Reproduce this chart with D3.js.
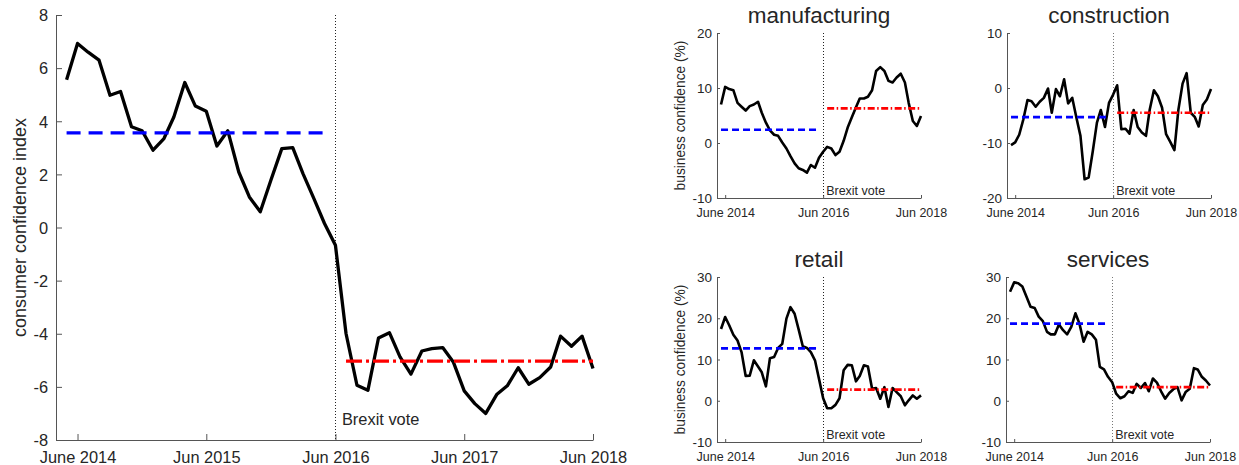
<!DOCTYPE html>
<meta charset="utf-8">
<script src="https://cdn.jsdelivr.net/npm/d3@7"></script>
<style>
  body { margin: 0; background: #fff; }
  svg text { font-family: Helvetica, 'Liberation Sans', Arial, sans-serif; fill: #262626; }
</style>
<body>
<script>

// monthly observations, May 2014 .. Jun 2018
var months = d3.utcMonth.range(new Date(Date.UTC(2014, 4, 1)), new Date(Date.UTC(2018, 6, 1)))
var brexit = new Date(Date.UTC(2016, 5, 1))
var xDomain = [new Date(Date.UTC(2014, 3, 1)), new Date(Date.UTC(2018, 5, 1))]

var mainTicks = [2014, 2015, 2016, 2017, 2018].map(function(y) { return new Date(Date.UTC(y, 5, 1)) })
var mainTickLabels = ["June 2014", "Jun 2015", "Jun 2016", "Jun 2017", "Jun 2018"]
var panelTicks = [2014, 2016, 2018].map(function(y) { return new Date(Date.UTC(y, 5, 1)) })
var panelTickLabels = ["June 2014", "Jun 2016", "Jun 2018"]

var consumer = [5.56, 6.93, 6.6, 6.3, 4.98, 5.12, 3.79, 3.64, 2.91, 3.35, 4.16, 5.46, 4.57, 4.38, 3.07, 3.64,
  2.09, 1.15, 0.59, 1.78, 2.97, 3.01, 2.03, 1.09, 0.15, -0.67,
  -3.99, -5.94, -6.13, -4.16, -3.96, -4.87, -5.52, -4.65, -4.56, -4.52, -5.06, -6.15, -6.63, -7.0,
  -6.29, -5.96, -5.28, -5.9, -5.65, -5.25, -4.09, -4.47, -4.09, -5.31]
var consumerMeans = [3.56, -5.03]

var manufacturing = [7.0, 10.2, 9.8, 9.6, 7.3, 6.6, 5.9, 6.7, 7.0, 7.5, 5.5, 3.7, 2.3, 1.5, 1.3, 0.1,
  -1.0, -2.4, -3.7, -4.6, -4.9, -5.4, -4.0, -4.5, -2.7, -1.6, -0.7, -1.0, -2.2, -1.6, 0.4, 2.8,
  4.7, 6.5, 8.1, 8.1, 8.4, 9.6, 13.1, 13.8, 13.1, 11.3, 11.0, 11.9, 12.6, 11.0, 7.3, 4.0, 3.1, 4.9]
var manufacturingMeans = [2.4, 6.3]

var construction = [-10.4, -9.9, -8.5, -5.7, -2.2, -2.4, -3.4, -2.5, -1.8, -0.1, -4.5, -0.2, -1.5, 1.6,
  -2.8, -1.8, -5.4, -8.7, -16.6, -16.3, -11.5, -6.3, -4.0, -7.1, -2.7, -1.2, 0.5, -7.5, -7.4, -8.3,
  -4.0, -7.1, -8.1, -8.7, -3.9, -0.4, -1.5, -3.6, -8.4, -9.8, -11.3, -3.9, 0.8, 2.7, -4.5, -5.3,
  -7.0, -3.1, -2.1, -0.2]
var constructionMeans = [-5.3, -4.5]

var retail = [17.4, 20.3, 18.3, 16.0, 14.6, 11.8, 6.0, 6.1, 9.8, 8.3, 6.9, 3.5, 10.3, 10.6, 12.8, 13.8,
  19.9, 22.7, 21.1, 17.3, 13.2, 12.8, 11.8, 9.8, 5.3, 0.6, -1.8, -1.8, -1.0, 0.6, 7.4, 8.7, 8.6,
  4.7, 6.0, 8.6, 8.3, 2.9, 3.1, 0.5, 3.3, -1.5, 3.1, 2.1, 1.1, -1.1, 0.1, 1.3, 0.5, 1.3]
var retailMeans = [12.7, 2.7]

var services = [26.4, 28.7, 28.5, 27.7, 25.2, 22.8, 22.5, 20.4, 19.3, 16.7, 16.1, 16.1, 18.5, 17.1,
  16.1, 17.9, 21.2, 18.7, 14.3, 16.7, 16.1, 14.8, 8.2, 7.6, 5.8, 4.5, 1.7, 0.6, 1.1, 2.3, 1.9, 4.1,
  3.1, 4.3, 2.3, 5.4, 4.4, 2.3, 0.5, 1.9, 2.8, 3.3, 0.1, 2.1, 2.9, 7.9, 7.6, 5.8, 4.9, 3.7]
var servicesMeans = [18.7, 3.3]

var svg = d3.select("body").append("svg")
  .attr("width", 1239)
  .attr("height", 465)

function drawChart(o) {
  var x = d3.scaleUtc().domain(xDomain).range([o.left, o.right])
  var y = d3.scaleLinear().domain(o.yDomain).range([o.bottom, o.top])
  var g = svg.append("g")

  var xAxis = g.append("g")
    .attr("transform", "translate(0," + o.bottom + ")")
    .call(d3.axisBottom(x).tickValues(o.ticks).tickSizeInner(-o.tick).tickSizeOuter(0)
      .tickPadding(o.xPad).tickFormat(function(d, i) { return o.tickLabels[i] }))
  var yAxis = g.append("g")
    .attr("transform", "translate(" + o.left + ",0)")
    .call(d3.axisLeft(y).tickValues(o.yTicks).tickSizeInner(-o.tick).tickSizeOuter(0)
      .tickPadding(o.yPad).tickFormat(function(d) { return String(d) }))
  g.selectAll(".domain, .tick line").attr("stroke", "#555")
  g.selectAll(".tick text").style("font-size", o.font + "px").attr("fill", "#262626")
  yAxis.selectAll(".tick text").attr("dy", "0.35em").style("font-size", o.yfont + "px")

  // brexit marker
  g.append("line")
    .attr("x1", Math.round(x(brexit)) + 0.5).attr("x2", Math.round(x(brexit)) + 0.5)
    .attr("y1", o.top).attr("y2", o.bottom)
    .attr("stroke", o.vcolor).attr("stroke-width", 1).attr("stroke-dasharray", "1,2")
  g.append("text")
    .attr("x", x(brexit) + o.brexitDx).attr("y", o.bottom - o.brexitDy)
    .style("font-size", o.font + "px")
    .text("Brexit vote")

  var line = d3.line().x(function(d) { return x(d[0]) }).y(function(d) { return y(d[1]) })

  g.append("path")
    .attr("d", line(months.map(function(m, i) { return [m, o.values[i]] })))
    .attr("fill", "none").attr("stroke", "#000").attr("stroke-width", o.lw)
    .attr("stroke-linejoin", "round")

  g.append("path")
    .attr("d", line([[months[0], o.means[0]], [months[24], o.means[0]]]))
    .attr("stroke", "#0000ff").attr("stroke-width", o.mw).attr("stroke-dasharray", o.dash)
  g.append("path")
    .attr("d", line([[months[26], o.means[1]], [months[49], o.means[1]]]))
    .attr("stroke", "#ff0000").attr("stroke-width", o.mw).attr("stroke-dasharray", o.dashdot)

  if (o.ylabel) {
    g.append("text")
      .attr("transform", "translate(" + o.ylabelX + "," + (o.top + o.bottom) / 2 + ") rotate(-90)")
      .attr("text-anchor", "middle")
      .style("font-size", o.labelFont + "px")
      .text(o.ylabel)
  }
  if (o.title) {
    g.append("text")
      .attr("x", (o.left + o.right) / 2).attr("y", o.top - 10.5)
      .attr("text-anchor", "middle")
      .style("font-size", "22.5px").attr("fill", "#111")
      .text(o.title)
  }
}

drawChart({
  left: 56, right: 593, top: 15, bottom: 440,
  yDomain: [-8, 8], yTicks: d3.range(-8, 9, 2),
  ticks: mainTicks, tickLabels: mainTickLabels,
  tick: 6, xPad: 11, yPad: 8, font: 16.4, yfont: 16.4,
  values: consumer, means: consumerMeans,
  lw: 3.3, mw: 3.2, dash: "14,8", dashdot: "16,4,3,4",
  vcolor: "#222", brexitDx: 6.5, brexitDy: 15,
  ylabel: "consumer confidence index", ylabelX: 26, labelFont: 18
})

var panels = [
  {title: "manufacturing", values: manufacturing, means: manufacturingMeans, yDomain: [-10, 20],
   left: 717, top: 33, ylabel: "business confidence (%)"},
  {title: "construction", values: construction, means: constructionMeans, yDomain: [-20, 10],
   left: 1007, top: 33},
  {title: "retail", values: retail, means: retailMeans, yDomain: [-10, 30],
   left: 717, top: 277, ylabel: "business confidence (%)"},
  {title: "services", values: services, means: servicesMeans, yDomain: [-10, 30],
   left: 1006, top: 277}
]

panels.forEach(function(p) {
  drawChart({
    left: p.left, right: p.left + 204, top: p.top, bottom: p.top + 165,
    yDomain: p.yDomain, yTicks: d3.range(p.yDomain[0], p.yDomain[1] + 1, 10),
    ticks: panelTicks, tickLabels: panelTickLabels,
    tick: 3, xPad: 10, yPad: 5, font: 12.5, yfont: 13.5,
    values: p.values, means: p.means,
    lw: 2.6, mw: 2.6, dash: "7,4", dashdot: "7,2.5,1.5,2.5",
    vcolor: p.left > 900 ? "#777" : "#222", brexitDx: 3, brexitDy: 3,
    ylabel: p.ylabel, ylabelX: 685, labelFont: 13.75, title: p.title
  })
})

</script>
</body>
